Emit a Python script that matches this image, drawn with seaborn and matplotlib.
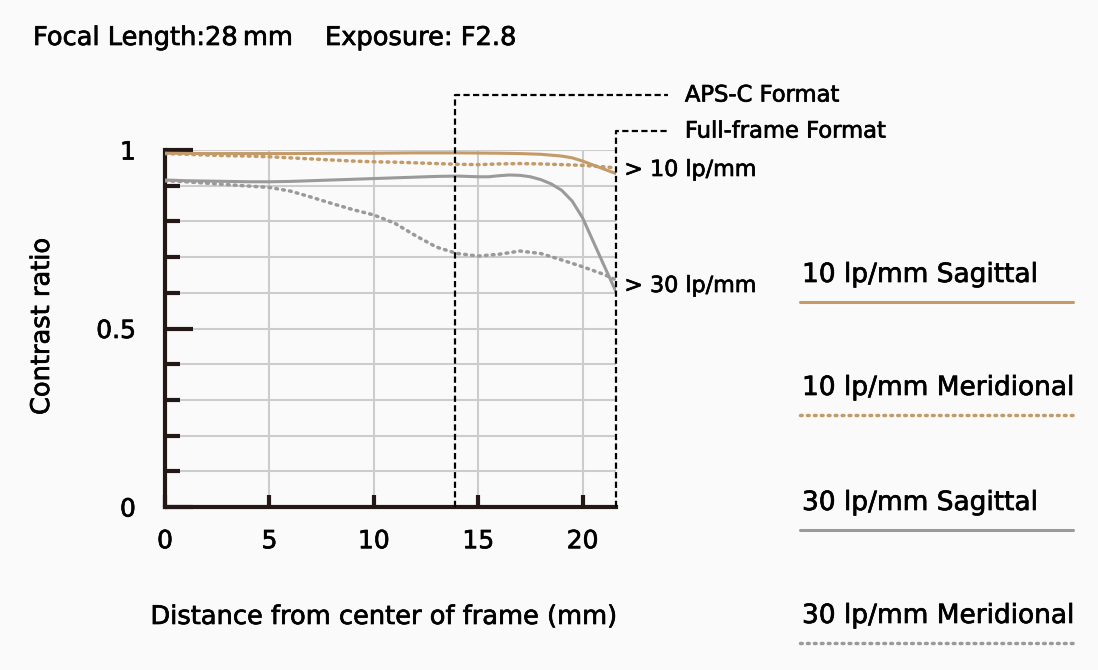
import numpy as np
import pandas as pd
import seaborn as sns
import matplotlib.pyplot as plt
import matplotlib.patheffects as pe
from matplotlib.lines import Line2D

# values
x_10s = [0, 2, 4, 6, 8, 10, 12, 14, 16, 17, 18, 19, 19.5, 20, 20.5, 21, 21.6]
v_10s = [0.991, 0.990, 0.990, 0.990, 0.991, 0.991, 0.992, 0.992, 0.991, 0.990,
         0.988, 0.983, 0.978, 0.969, 0.958, 0.947, 0.934]

x_10m = [0, 1, 2, 3, 4, 5, 6, 7, 8, 9, 10, 11, 12, 13, 14, 15, 16, 17, 18, 19, 20, 21, 21.6]
v_10m = [0.990, 0.988, 0.986, 0.984, 0.983, 0.981, 0.978, 0.975, 0.972, 0.969, 0.967,
         0.966, 0.964, 0.962, 0.960, 0.959, 0.961, 0.962, 0.961, 0.959, 0.957, 0.953, 0.950]

x_30s = [0, 1, 2, 3, 4, 5, 6, 7, 8, 9, 10, 11, 12, 13, 14, 15, 15.5, 16, 16.5, 17,
         17.5, 18, 18.5, 19, 19.5, 20, 20.5, 21, 21.6]
v_30s = [0.916, 0.914, 0.913, 0.912, 0.911, 0.911, 0.912, 0.914, 0.916, 0.918, 0.920,
         0.922, 0.924, 0.926, 0.927, 0.925, 0.925, 0.928, 0.930, 0.929, 0.925, 0.917,
         0.905, 0.887, 0.857, 0.810, 0.745, 0.680, 0.603]

x_30m = [0, 1, 2, 3, 4, 5, 6, 7, 8, 9, 10, 11, 12, 13, 14, 15, 16, 17, 18, 19, 20, 21, 21.6]
v_30m = [0.914, 0.911, 0.907, 0.903, 0.899, 0.895, 0.885, 0.868, 0.850, 0.833, 0.818,
         0.795, 0.760, 0.728, 0.710, 0.703, 0.708, 0.717, 0.710, 0.692, 0.673, 0.652, 0.636]

series_names = ["10 lp/mm Sagittal", "10 lp/mm Meridional",
                "30 lp/mm Sagittal", "30 lp/mm Meridional"]
aps_c = 13.9
full_frame = 21.6

tan = "#c39a68"
grey = "#9a9a9a"
bg = "#fafafa"
ink = "#231815"

sns.set_style("white")
plt.rcParams['font.family'] = ['DejaVu Sans']
plt.rcParams['text.color'] = 'black'

# slightly heavier text, like the medium weight of the original
heavy = [pe.withStroke(linewidth=0.5, foreground="black")]

fig = plt.figure(figsize=(10.98, 6.70), dpi=100, facecolor=bg)
ax = fig.add_axes([165 / 1098, 1 - 507 / 670, (616 - 165) / 1098, (507 - 150) / 670])
ax.set_facecolor(bg)

ax.set_xlim(0, 21.6)
ax.set_ylim(0, 1)

# grid
for gy in np.arange(0.1, 1.01, 0.1):
    ax.axhline(gy, color="#cccccc", linewidth=1.5, zorder=0)
for gx in [5, 10, 15, 20]:
    ax.axvline(gx, color="#cccccc", linewidth=1.5, zorder=0)

dots = (0, (0.5, 1.5))
sns.lineplot(x=x_10s, y=v_10s, ax=ax, color=tan, linewidth=2.2, zorder=3)
sns.lineplot(x=x_10m, y=v_10m, ax=ax, color=tan, linewidth=2.5, zorder=3,
             linestyle=dots, dash_capstyle="round")
sns.lineplot(x=x_30s, y=v_30s, ax=ax, color=grey, linewidth=2.2, zorder=3)
sns.lineplot(x=x_30m, y=v_30m, ax=ax, color=grey, linewidth=2.5, zorder=3,
             linestyle=dots, dash_capstyle="round")

# format borders
dash = (0, (2.8, 1.5))
ax.plot([aps_c, aps_c, 24.1], [0, 1.154, 1.154], color="black", linewidth=1.6,
        ls=dash, clip_on=False, zorder=4)
ax.plot([full_frame, full_frame, 24.1], [0, 1.053, 1.053], color="black", linewidth=1.6,
        ls=dash, clip_on=False, zorder=4)
ax.text(24.9, 1.154, "APS-C Format", fontsize=16.3, va="center", ha="left", path_effects=heavy)
ax.text(24.9, 1.053, "Full-frame Format", fontsize=16.3, va="center", ha="left", path_effects=heavy)
ax.text(22.0, 0.944, "> 10 lp/mm", fontsize=16, va="center", ha="left", path_effects=heavy)
ax.text(22.0, 0.619, "> 30 lp/mm", fontsize=16, va="center", ha="left", path_effects=heavy)

# spines and ticks
for s in ["top", "right"]:
    ax.spines[s].set_visible(False)
for s in ["left", "bottom"]:
    ax.spines[s].set_linewidth(3)
    ax.spines[s].set_color(ink)
ax.set_yticks([0, 0.5, 1])
ax.set_yticklabels(["0", "0.5", "1"])
ax.set_yticks(np.arange(0, 1.01, 0.1), minor=True)
ax.set_xticks([0, 5, 10, 15, 20])
ax.tick_params(axis="y", which="major", direction="in", length=20, width=3, left=True,
               color=ink, labelsize=18, labelcolor="black", pad=21)
ax.tick_params(axis="y", which="minor", direction="in", length=11, width=3, left=True,
               color=ink)
ax.tick_params(axis="x", which="major", direction="in", length=9, width=3, bottom=True,
               color=ink, labelsize=18, labelcolor="black", pad=16)
for lab in ax.get_xticklabels() + ax.get_yticklabels():
    lab.set_path_effects(heavy)
ax.set_xlabel("")
ax.set_ylabel("")

fig.text(42 / 1098, 1 - 326 / 670, "Contrast ratio", rotation=90, fontsize=18.5,
         va="center", ha="center", path_effects=heavy)
fig.text(385 / 1098, 1 - 617 / 670, "Distance from center of frame (mm)", fontsize=18.5,
         va="center", ha="center", path_effects=heavy)
fig.text(33 / 1098, 1 - 38 / 670, "Focal Length:28\u2009mm", fontsize=18.5,
         va="center", ha="left", path_effects=heavy)
fig.text(325 / 1098, 1 - 38 / 670, "Exposure: F2.8", fontsize=18.5,
         va="center", ha="left", path_effects=heavy)

# legend at right
leg_text_y = [275, 388, 503, 616]
leg_line_y = [302, 415, 530, 643]
leg_styles = [(tan, "-", 2.2), (tan, dots, 2.5), (grey, "-", 2.2), (grey, dots, 2.5)]
for name, ty, ly, (c, ls, lw) in zip(series_names, leg_text_y, leg_line_y, leg_styles):
    fig.text(802 / 1098, 1 - ty / 670, name, fontsize=19, va="center", ha="left",
             path_effects=heavy)
    fig.add_artist(Line2D([800 / 1098, 1073 / 1098], [1 - ly / 670, 1 - ly / 670],
                          color=c, ls=ls, lw=lw, dash_capstyle="round"))

fig.savefig("out.png", dpi=100, facecolor=bg)
